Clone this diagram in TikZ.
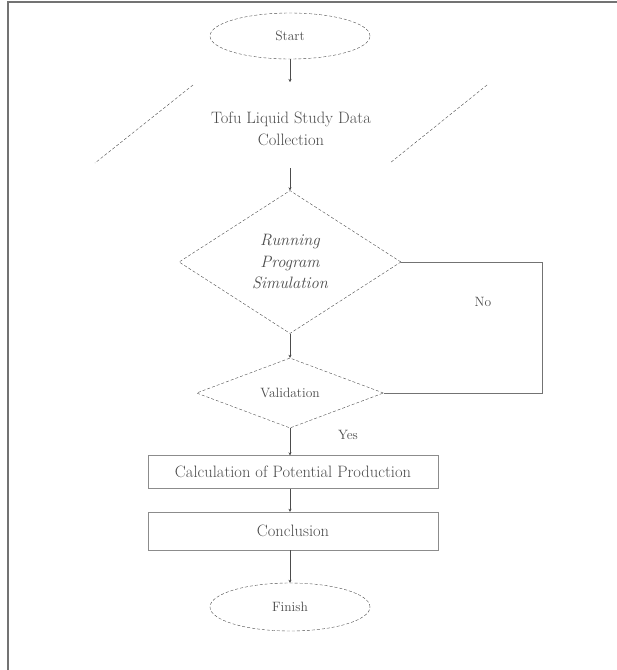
\documentclass[tikz,border=0pt]{standalone}
\usepackage{tikz}
\usetikzlibrary{shapes.geometric,arrows.meta}
\tikzset{every node/.style={font=\fontsize{13.5}{21}\selectfont,text=black!70,inner sep=0pt}}
\tikzset{big/.style={font=\fontsize{16.5}{21.5}\selectfont}}
\tikzset{term/.style={ellipse,draw=black!70,dash pattern=on 3pt off 2pt,minimum width=160pt,minimum height=46pt}}
\tikzset{decide/.style={diamond,draw=black!70,dash pattern=on 3pt off 2pt,align=center}}
\tikzset{proc/.style={rectangle,draw=black!45,minimum width=290pt,big}}
\tikzset{flow/.style={draw=black!70,-{Stealth[length=3pt,width=3pt]}}}
\tikzset{side/.style={draw=black!70,dash pattern=on 3pt off 2pt}}

\begin{document}
\begin{tikzpicture}[x=1pt,y=1pt]
      \useasboundingbox (0,0) rectangle (617,-670);
      \draw[black!55,line width=1.2pt] (8,-670) -- (8,-2) -- (617,-2);
      \node[term] (start) at (290,-36) {Start};
      \node[big,align=center] (collect) at (291,-129) {Tofu Liquid Study Data\\Collection};
      \coordinate (ctop) at (290,-82);
      \coordinate (cbot) at (290,-168);
      \draw[side] ([xshift=-98pt,yshift=44pt]collect.center) -- ([xshift=-196pt,yshift=-34pt]collect.center);
      \draw[side] ([xshift=196pt,yshift=44pt]collect.center) -- ([xshift=99pt,yshift=-34pt]collect.center);
      \node[decide,big,minimum width=222pt,minimum height=143pt] (sim) at (290,-262)
            {\itshape Running\\\itshape Program\\\itshape Simulation};
      \node[decide,minimum width=187pt,minimum height=70pt] (valid) at (290,-393) {Validation};
      \node[proc,minimum height=33pt] (calc) at (293,-472) {Calculation of Potential Production};
      \node[proc,minimum height=38pt] (concl) at (293,-531) {Conclusion};
      \node[term,minimum height=48pt] (finish) at (290,-607) {Finish};
      \node (no) at (483,-302) {No};
      \node (yes) at (348,-435) {Yes};
      \draw[flow] (start) -- (ctop);
      \draw[flow] (cbot) -- (sim);
      \foreach \a/\b in {sim/valid,valid/calc,calc/concl,concl/finish}
        \draw[flow] (\a.south -| start) -- (\b.north -| start);
      \draw[black!55] (valid.east) -- ++(158,0) |- (sim.east);
    \end{tikzpicture}
\end{document}
